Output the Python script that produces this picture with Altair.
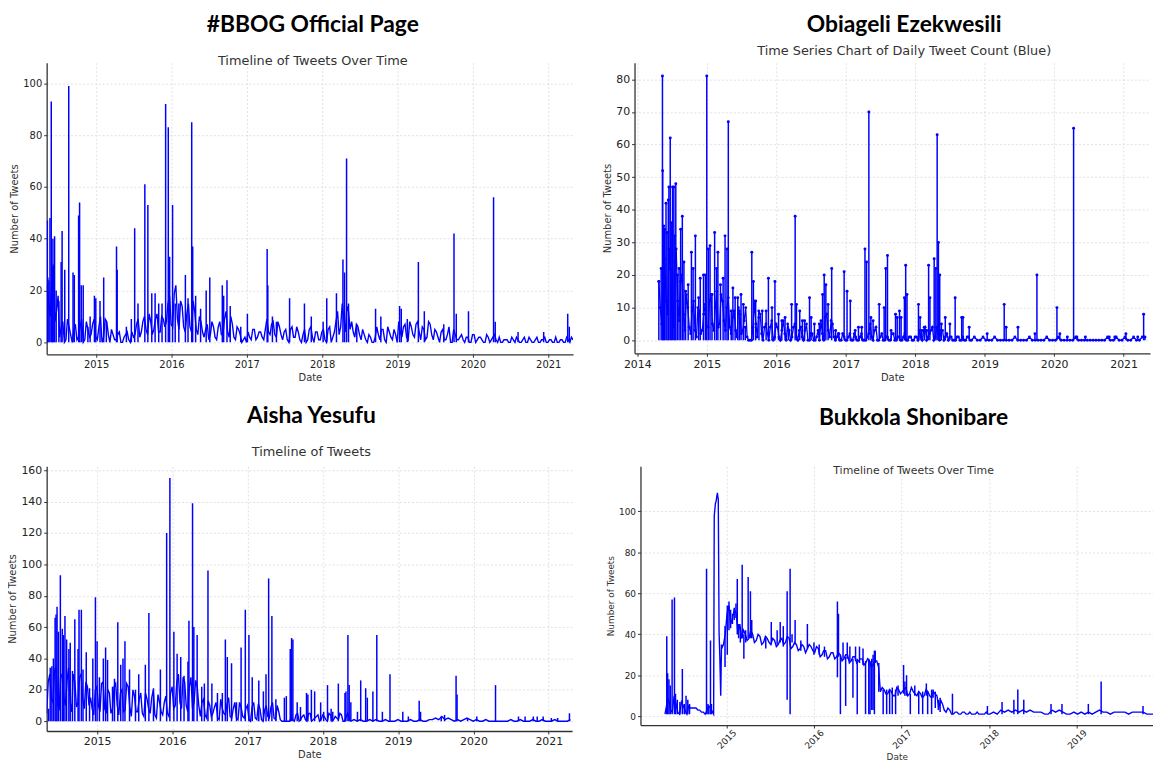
import altair as alt
import numpy as np
import pandas as pd

BLUE = "#0000ff"

# ---------------- #BBOG Official Page ----------------
bbog_start = 2014.35
bbog_step = 1 / 24
bbog_base = [22, 10, 30, 12,
             2, 8, 1, 6, 0, 7, 2, 9, 1, 5,
             3, 9, 1, 10, 2, 8, 0,
             3, 1, 4, 0, 3, 1, 4,
             3, 9, 4, 10, 3, 8, 5, 11, 4, 9,
             8, 18, 6, 22, 5, 14, 4,
             15, 4, 12, 3, 8,
             2, 7, 3, 6, 1, 8, 3, 12, 2, 7, 1, 5,
             0, 2,
             4, 1, 5, 2, 4, 1,
             9, 3, 8, 2, 6,
             1, 5, 0, 6, 2, 4, 0, 5, 1, 6, 0, 4,
             1, 5, 0, 6, 2,
             8, 3, 15, 4, 12,
             8, 2, 6, 1,
             3, 0, 2, 0,
             6, 1, 5, 0, 4, 1, 3,
             8, 2, 7, 1, 6, 2, 8, 1, 5, 2, 7, 1,
             4, 0, 5, 1, 6, 0, 3, 1,
             3, 0, 2, 0, 3, 1, 2, 0, 3, 0, 2, 1,
             2, 0, 1, 0, 2, 0, 1, 0, 2, 0, 1, 0, 2, 0, 1, 0, 1, 0, 2, 0, 1, 0, 1, 2]
# readings half-way between the points above
bbog_mid = [15, 26, 8, 18,
            6, 0, 9, 3, 5, 1, 6, 0, 8, 2,
            7, 2, 6, 0, 9, 3, 5,
            1, 3, 0, 2, 4, 0, 2,
            7, 2, 8, 5, 11, 3, 9, 4, 10, 6,
            15, 7, 19, 9, 16, 6, 11,
            6, 16, 5, 10, 4,
            5, 1, 8, 2, 6, 3, 9, 4, 10, 2, 6, 3,
            1, 0,
            2, 5, 1, 4, 2, 5,
            4, 7, 3, 8, 3,
            4, 1, 5, 2, 6, 1, 3, 0, 5, 2, 4, 1,
            4, 1, 5, 0, 4,
            12, 6, 9, 14, 5,
            4, 7, 3, 5,
            1, 3, 0, 2,
            3, 5, 1, 6, 2, 5, 0,
            4, 6, 2, 8, 3, 7, 4, 6, 1, 8, 3, 5,
            2, 4, 1, 3, 0, 5, 1, 2,
            1, 2, 0, 3, 0, 2, 1, 0, 2, 1, 3, 0,
            0, 1, 1, 0, 1, 2, 0, 1, 0, 2, 0, 1, 0, 1, 2, 0, 1, 0, 0, 1, 0, 2, 0, 1]
bbog_spikes = [(2014.353, 47), (2014.36, 25), (2014.374, 24), (2014.388, 48), (2014.405, 93),
               (2014.42, 29), (2014.427, 40), (2014.44, 25), (2014.449, 41), (2014.47, 20),
               (2014.506, 16), (2014.536, 31), (2014.549, 43), (2014.584, 28), (2014.637, 99),
               (2014.694, 27), (2014.711, 26), (2014.768, 49), (2014.781, 54), (2014.803, 22),
               (2014.829, 22), (2014.891, 6), (2014.921, 10), (2014.978, 18), (2014.996, 17),
               (2015.052, 16), (2015.101, 25), (2015.136, 8), (2015.271, 37), (2015.28, 28),
               (2015.402, 6), (2015.468, 9), (2015.512, 44), (2015.556, 15), (2015.647, 61),
               (2015.687, 53), (2015.739, 19), (2015.783, 19), (2015.831, 15), (2015.875, 15),
               (2015.923, 92), (2015.958, 83), (2015.976, 33), (2016.015, 53), (2016.05, 15),
               (2016.098, 15), (2016.185, 26), (2016.22, 17), (2016.269, 85), (2016.282, 37),
               (2016.321, 18), (2016.387, 13), (2016.461, 20), (2016.509, 25), (2016.675, 22),
               (2016.693, 18), (2016.737, 24), (2016.78, 14), (2016.92, 6), (2017.008, 11),
               (2017.27, 36), (2017.279, 22), (2017.34, 10), (2017.393, 8), (2017.568, 17),
               (2017.765, 15), (2017.856, 10), (2018.013, 8), (2018.061, 17), (2018.19, 19),
               (2018.276, 32), (2018.297, 27), (2018.324, 71), (2018.35, 15), (2018.46, 7),
               (2018.709, 13), (2018.779, 10), (2019.028, 14), (2019.05, 13), (2019.13, 9),
               (2019.277, 31), (2019.356, 12), (2019.614, 7), (2019.75, 42), (2019.78, 11),
               (2019.942, 12), (2020.275, 56), (2020.297, 8), (2020.6, 4), (2020.94, 4),
               (2021.259, 11), (2021.28, 6)]

# ---------------- Obiageli Ezekwesili ----------------
obi_start = 2014.31
obi_step = 1 / 24
obi_base = [18, 5, 25, 8, 22, 4, 28, 6, 20, 3,
            10, 2, 12, 1, 9, 3, 11,
            4, 14, 3, 15, 5, 12, 3, 13,
            2, 9, 1, 8, 3, 10,
            0, 0,
            12, 1, 8, 0,
            5, 0, 6, 1, 4, 0, 6, 0, 3, 1, 5, 0,
            4, 0, 5, 0,
            2, 0, 3,
            6, 0, 8, 1, 5,
            0, 2, 0, 1, 0, 2, 0, 1, 0, 2, 0, 1,
            5, 0, 4,
            0, 2, 0, 1, 0, 2, 0, 1, 0, 2, 0,
            1, 0, 1,
            3, 0, 4, 1, 3, 0, 4, 0, 3, 1,
            0, 1, 0, 1, 0, 1, 0, 1,
            0, 1, 0, 0, 1, 0, 0, 0, 1, 0, 0, 0,
            0, 0, 0, 1, 0, 0, 0, 0, 1, 0, 0, 0,
            0, 0, 1, 0, 0, 0, 1, 0, 0, 0, 0, 0,
            1, 0, 0, 0, 0, 0, 0, 0, 0, 0, 0, 1,
            0, 0, 1, 0, 0, 1, 0, 0, 1, 0, 0, 1]
obi_mid = [10, 20, 12, 28, 9, 24, 12, 18, 8, 14,
           4, 9, 3, 10, 2, 8, 4,
           12, 5, 10, 4, 14, 6, 10, 4,
           7, 3, 10, 2, 6, 1,
           0, 4,
           5, 9, 2, 4,
           2, 4, 0, 5, 1, 3, 2, 5, 0, 4, 1, 3,
           1, 3, 0, 2,
           0, 1, 0,
           2, 7, 3, 6, 1,
           1, 0, 2, 0, 1, 0, 2, 0, 1, 0, 0, 2,
           1, 3, 0,
           1, 0, 1, 0, 2, 0, 1, 0, 1, 0, 1,
           0, 1, 0,
           1, 3, 0, 2, 4, 1, 2, 3, 0, 2,
           1, 0, 0, 1, 0, 0, 1, 0]
obi_spikes = [(2014.31, 18), (2014.343, 22), (2014.362, 81), (2014.365, 52), (2014.38, 35),
              (2014.394, 34), (2014.413, 42), (2014.427, 33), (2014.446, 43), (2014.455, 47),
              (2014.474, 62), (2014.488, 36), (2014.507, 47), (2014.526, 47), (2014.54, 32),
              (2014.554, 48), (2014.577, 20), (2014.601, 22), (2014.624, 34), (2014.648, 38),
              (2014.671, 24), (2014.695, 15), (2014.732, 17), (2014.779, 27), (2014.803, 22),
              (2014.836, 32), (2014.883, 13), (2014.906, 19), (2014.953, 20), (2014.981, 20),
              (2015.0, 81), (2015.023, 28), (2015.047, 29), (2015.075, 14), (2015.113, 33),
              (2015.141, 22), (2015.16, 27), (2015.197, 17), (2015.235, 19), (2015.263, 32),
              (2015.291, 28), (2015.31, 67), (2015.352, 9), (2015.376, 16), (2015.408, 13),
              (2015.446, 13), (2015.469, 9), (2015.493, 14), (2015.526, 11), (2015.554, 4),
              (2015.648, 27), (2015.671, 18), (2015.704, 12), (2015.751, 7), (2015.798, 9),
              (2015.854, 9), (2015.887, 19), (2015.939, 10), (2015.981, 18), (2016.033, 8),
              (2016.08, 6), (2016.127, 7), (2016.174, 3), (2016.221, 11), (2016.272, 38),
              (2016.291, 11), (2016.338, 9), (2016.376, 6), (2016.408, 6), (2016.479, 13),
              (2016.502, 7), (2016.549, 5), (2016.62, 5), (2016.667, 14), (2016.69, 20),
              (2016.714, 17), (2016.746, 11), (2016.798, 22), (2016.854, 3), (2016.901, 2),
              (2016.977, 21), (2017.019, 15), (2017.066, 12), (2017.136, 3), (2017.183, 4),
              (2017.23, 4), (2017.277, 28), (2017.3, 24), (2017.333, 70), (2017.362, 7),
              (2017.394, 6), (2017.482, 11), (2017.553, 10), (2017.576, 22), (2017.601, 26),
              (2017.653, 3), (2017.717, 8), (2017.741, 7), (2017.774, 9), (2017.797, 7),
              (2017.845, 13), (2017.863, 23), (2017.882, 14), (2018.047, 11), (2018.07, 7),
              (2018.094, 3), (2018.13, 4), (2018.165, 3), (2018.193, 23), (2018.212, 13),
              (2018.273, 25), (2018.297, 22), (2018.316, 63), (2018.334, 30), (2018.353, 20),
              (2018.377, 5), (2018.433, 7), (2018.499, 5), (2018.575, 13), (2018.669, 7),
              (2018.688, 7), (2018.777, 4), (2019.036, 2), (2019.281, 11), (2019.309, 4),
              (2019.479, 4), (2019.724, 2), (2019.752, 20), (2020.04, 10), (2020.082, 2),
              (2020.19, 1), (2020.28, 65), (2020.327, 1), (2020.449, 1), (2020.793, 1),
              (2020.873, 1), (2021.033, 2), (2021.203, 1), (2021.288, 8), (2021.307, 1)]

# ---------------- Aisha Yesufu ----------------
aisha_start = 2014.33
aisha_step = 1 / 24
aisha_base = [5, 30, 12, 35, 8, 28, 10, 34, 6, 25, 12, 30, 8, 22,
              15, 4, 22, 6, 25, 5, 18, 8, 24, 4, 20, 7, 22, 3, 16,
              6, 18, 3, 14, 5, 20, 2, 12, 4, 16, 3, 22,
              10, 30, 8, 25, 6, 28, 12, 22,
              3, 14, 2, 10, 5, 12, 1, 8, 4, 15, 2, 12, 1, 9,
              2, 10, 0, 12, 1, 8, 0, 10, 2, 12, 1, 6,
              0, 0, 0,
              3, 0, 5, 1, 4, 0, 5, 1, 3, 0, 4, 1, 5, 0, 3, 1, 4, 0, 5,
              0, 1, 0, 1, 0, 0, 1, 0, 1, 0, 0, 1, 0,
              0, 0, 1, 0, 0, 0, 1, 0, 0, 1, 0, 0, 1,
              1, 2, 1, 3, 1, 2, 1, 0, 1, 0,
              1, 2, 1, 0, 1, 0, 0, 1, 0, 0, 0, 0, 0,
              0, 0, 1, 0, 0, 1, 0, 0, 0, 1, 0, 0, 1, 0, 0, 0, 1, 0, 0, 0, 0, 1]
aisha_mid = [25, 14, 32, 10, 30, 15, 26, 12, 30, 9, 28, 14, 25, 10,
             8, 20, 10, 24, 8, 20, 5, 22, 10, 18, 6, 24, 9, 20, 6,
             14, 5, 18, 8, 15, 4, 17, 6, 12, 5, 18, 8,
             25, 12, 28, 10, 22, 8, 26, 10,
             12, 4, 13, 3, 9, 2, 14, 5, 11, 3, 8, 2, 12, 3,
             8, 1, 9, 2, 11, 1, 7, 3, 9, 2, 10, 1,
             0, 0, 0,
             1, 4, 0, 3, 1, 5, 0, 2, 4, 1, 3, 0, 4, 1, 2, 5, 0, 3, 1]
aisha_spikes = [(2014.355, 8), (2014.377, 34), (2014.399, 35), (2014.42, 40), (2014.442, 66),
                (2014.455, 68), (2014.468, 73), (2014.486, 57), (2014.512, 93), (2014.538, 59),
                (2014.551, 55), (2014.573, 67), (2014.595, 52), (2014.625, 46), (2014.643, 50),
                (2014.673, 32), (2014.704, 65), (2014.747, 46), (2014.76, 71), (2014.791, 71),
                (2014.813, 33), (2014.856, 44), (2014.9, 21), (2014.943, 40), (2014.978, 79),
                (2015.0, 51), (2015.031, 28), (2015.083, 40), (2015.113, 47), (2015.139, 39),
                (2015.205, 22), (2015.231, 27), (2015.275, 63), (2015.314, 36), (2015.344, 40),
                (2015.37, 51), (2015.431, 33), (2015.51, 20), (2015.553, 30), (2015.641, 36),
                (2015.688, 69), (2015.749, 21), (2015.841, 33), (2015.924, 120), (2015.967, 155),
                (2016.02, 57), (2016.063, 43), (2016.111, 41), (2016.155, 29), (2016.207, 38),
                (2016.22, 64), (2016.268, 139), (2016.285, 60), (2016.329, 55), (2016.39, 22),
                (2016.425, 24), (2016.473, 96), (2016.525, 24), (2016.599, 18), (2016.664, 18),
                (2016.704, 52), (2016.73, 41), (2016.786, 37), (2016.852, 12), (2016.913, 47),
                (2016.969, 71), (2017.017, 55), (2017.061, 28), (2017.148, 26), (2017.209, 19),
                (2017.244, 30), (2017.279, 91), (2017.322, 67), (2017.375, 14), (2017.488, 15),
                (2017.514, 16), (2017.566, 46), (2017.584, 53), (2017.601, 52), (2017.658, 12),
                (2017.702, 9), (2017.782, 18), (2017.8, 17), (2017.847, 20), (2017.89, 19),
                (2017.97, 12), (2018.01, 6), (2018.061, 23), (2018.109, 8), (2018.131, 6),
                (2018.205, 24), (2018.293, 18), (2018.306, 19), (2018.332, 55), (2018.349, 23),
                (2018.371, 12), (2018.459, 6), (2018.502, 26), (2018.568, 21), (2018.59, 15),
                (2018.664, 19), (2018.716, 55), (2018.79, 6), (2018.891, 30), (2019.061, 6),
                (2019.135, 3), (2019.279, 13), (2019.297, 6), (2019.572, 3), (2019.616, 4),
                (2019.769, 29), (2019.782, 17), (2019.921, 2), (2020.044, 3), (2020.293, 23),
                (2020.598, 3), (2020.686, 3), (2020.795, 3), (2020.847, 3), (2020.926, 3),
                (2021.035, 2), (2021.118, 2), (2021.275, 5)]

# ---------------- Bukkola Shonibare ----------------
buk_start = 2014.30
buk_step = 1 / 24
buk_base = [1, 8, 2, 6, 1, 5, 1, 4, 4, 3, 2, 1, 5, 2, 105, 30, 35,
            50, 45, 52, 40, 38, 40, 38, 40,
            37, 39, 36, 38, 35, 37, 35, 38, 36, 38, 34, 35, 33, 34, 33, 34,
            31, 33, 30, 32, 29, 31, 29, 30, 28, 30, 27, 29, 27, 28, 26, 27, 25, 27,
            12, 13, 11, 12, 10, 13, 12, 14, 11, 12, 10, 11, 10, 12, 9, 11,
            4, 6, 2, 3, 1, 2, 1, 2, 1, 1, 1, 1, 1, 2,
            1, 2, 1, 3, 2, 3, 2, 3, 2, 3, 2, 3, 2, 2, 2, 1, 1, 3, 2, 3, 2, 1, 1, 2,
            1, 2, 1, 2, 1, 2, 3, 2, 2, 1, 2, 2, 2, 2, 1, 2, 2, 2, 2, 1, 1, 1, 1, 1]
buk_mid = [6, 3, 10, 2, 7, 3, 5, 4, 4, 3, 2, 3, 4, 98, 107, 33, 40,
           54, 48, 50, 45, 42, 37, 42, 36,
           40, 35, 39, 36, 38, 34, 37, 35, 39, 33, 36, 32, 35, 31, 35, 32,
           34, 29, 32, 28, 31, 28, 31, 27, 30, 26, 29, 26, 28, 25, 28, 24, 27, 24,
           14, 11, 13, 10, 14, 11, 13, 10, 14, 11, 12, 9, 13, 10, 12, 10,
           8, 3, 4, 1, 2, 1, 2, 1, 2, 1, 2, 1, 1, 1]
buk_extra = [(2014.855, 1), (2014.862, 98), (2014.876, 104), (2014.898, 109),
             (2014.908, 106), (2014.917, 41), (2014.936, 10), (2014.945, 35)]
buk_segments = [(2014.32, 1, 39), (2014.33, 1, 21), (2014.345, 1, 18), (2014.36, 1, 15),
                (2014.381, 1, 57), (2014.408, 1, 58), (2014.42, 1, 11), (2014.44, 1, 8),
                (2014.47, 1, 7), (2014.498, 1, 23), (2014.52, 1, 6), (2014.54, 1, 10),
                (2014.56, 1, 8), (2014.58, 1, 6), (2014.774, 1, 72), (2014.79, 1, 6),
                (2014.8, 1, 5), (2014.819, 1, 37), (2014.83, 1, 6),
                (2014.985, 24, 44), (2015.011, 30, 54), (2015.03, 42, 56), (2015.049, 43, 52),
                (2015.07, 45, 50), (2015.09, 47, 53), (2015.11, 48, 55), (2015.125, 40, 67),
                (2015.14, 38, 45), (2015.16, 36, 42), (2015.181, 38, 74), (2015.2, 28, 40),
                (2015.22, 36, 42), (2015.249, 38, 68), (2015.275, 38, 61), (2015.29, 38, 47),
                (2015.45, 33, 39), (2015.513, 35, 46), (2015.58, 35, 42), (2015.615, 36, 46),
                (2015.65, 34, 44), (2015.694, 8, 61), (2015.728, 1, 72), (2015.75, 36, 40),
                (2015.785, 35, 47), (2015.85, 32, 37), (2015.925, 33, 45), (2016.0, 30, 36),
                (2016.06, 30, 35), (2016.12, 29, 34), (2016.268, 19, 56), (2016.28, 29, 50),
                (2016.302, 1, 30), (2016.332, 28, 36), (2016.362, 5, 29), (2016.38, 28, 36),
                (2016.41, 27, 34), (2016.445, 9, 28), (2016.475, 27, 34), (2016.494, 1, 28),
                (2016.52, 26, 34), (2016.56, 25, 33), (2016.589, 1, 27), (2016.626, 1, 28),
                (2016.64, 1, 27), (2016.66, 3, 28), (2016.675, 3, 30), (2016.69, 1, 32),
                (2016.7, 26, 32), (2016.74, 12, 26),
                (2016.79, 1, 13), (2016.83, 1, 13), (2016.864, 1, 13), (2016.894, 1, 14),
                (2016.932, 1, 13), (2016.96, 10, 15), (2017.023, 11, 25), (2017.038, 10, 17),
                (2017.057, 10, 20), (2017.1, 1, 11), (2017.151, 10, 15), (2017.196, 1, 12),
                (2017.241, 1, 12), (2017.283, 10, 16), (2017.298, 1, 12), (2017.343, 1, 13),
                (2017.36, 9, 13), (2017.385, 4, 12), (2017.42, 3, 8), (2017.44, 2, 9),
                (2017.581, 1, 11), (2017.98, 1, 5), (2018.147, 1, 7), (2018.282, 1, 8),
                (2018.327, 1, 13), (2018.395, 1, 8), (2018.706, 1, 6), (2018.831, 1, 6),
                (2019.132, 1, 6), (2019.278, 1, 17), (2019.756, 1, 5)]


def base_frame(start, step, values, mid=None, extra=None):
    parts = [pd.DataFrame({"year": start + np.arange(len(values)) * step, "n": values})]
    if mid:
        parts.append(pd.DataFrame({"year": start + step / 2 + np.arange(len(mid)) * step,
                                   "n": mid}))
    if extra:
        parts.append(pd.DataFrame(extra, columns=["year", "n"]))
    df = pd.concat(parts)
    return df.sort_values("year").reset_index(drop=True)


def spike_frame(spikes):
    if len(spikes[0]) == 2:
        df = pd.DataFrame(spikes, columns=["year", "hi"])
        df["lo"] = 0
    else:
        df = pd.DataFrame(spikes, columns=["year", "lo", "hi"])
    return df


def panel(base, spikes, xdom, xticks, ydom, yticks, w, h, title, subtitle,
          sub_pad, offset, dx, lab=10, ttl=10, sub_size=13, markers=False,
          label_angle=0, ytitle_pad=3):
    if label_angle:
        xaxis = alt.Axis(values=xticks, format="d", title="Date", labelFontSize=lab,
                         titleFontSize=ttl, labelAngle=label_angle, labelAlign="center",
                         labelBaseline="middle", labelPadding=11, titlePadding=2)
    else:
        xaxis = alt.Axis(values=xticks, format="d", title="Date", labelFontSize=lab,
                         titleFontSize=ttl, titlePadding=3)
    yaxis = alt.Axis(values=yticks, title="Number of Tweets", labelFontSize=lab,
                     titleFontSize=ttl, titlePadding=ytitle_pad)
    xs = alt.Scale(domain=xdom, nice=False, zero=False)
    ys = alt.Scale(domain=ydom, nice=False, zero=False)
    X = alt.X("year:Q", scale=xs, axis=xaxis)
    if markers:
        line = alt.Chart(base).mark_line(
            color=BLUE, strokeWidth=1.3, clip=True,
            point=alt.OverlayMarkDef(filled=True, size=8, color=BLUE))
    else:
        line = alt.Chart(base).mark_line(color=BLUE, strokeWidth=1.4, clip=True)
    line = line.encode(x=X, y=alt.Y("n:Q", scale=ys, axis=yaxis))
    rule = alt.Chart(spikes).mark_rule(color=BLUE, strokeWidth=1.5, clip=True).encode(
        x=X, y=alt.Y("hi:Q", scale=ys, axis=yaxis), y2="lo:Q")
    layers = [line, rule]
    if markers:
        tops = alt.Chart(spikes).mark_circle(color=BLUE, size=9, opacity=1, clip=True).encode(
            x=X, y=alt.Y("hi:Q", scale=ys, axis=yaxis))
        layers.append(tops)
    return alt.layer(*layers).properties(
        width=w, height=h,
        title=alt.TitleParams(text=title, subtitle=subtitle, font="Lato", fontSize=23,
                              fontWeight="bold", color="#000000",
                              subtitleFont="DejaVu Sans", subtitleFontSize=sub_size,
                              subtitleColor="#333333", subtitlePadding=sub_pad,
                              offset=offset, anchor="middle", dx=dx))


p1 = panel(base_frame(bbog_start, bbog_step, bbog_base, bbog_mid), spike_frame(bbog_spikes),
           [2014.344, 2021.33], list(range(2015, 2022)), [-4.6, 107.9],
           [0, 20, 40, 60, 80, 100], 531, 294,
           "#BBOG Official Page", "Timeline of Tweets Over Time", 18, -5, 3, sub_size=13)
p2 = panel(base_frame(obi_start, obi_step, obi_base, obi_mid), spike_frame(obi_spikes),
           [2013.96, 2021.38], list(range(2014, 2022)), [-4.0, 85.05],
           [0, 10, 20, 30, 40, 50, 60, 70, 80], 520, 293,
           "Obiageli Ezekwesili", "Time Series Chart of Daily Tweet Count (Blue)", 8, 5, 12,
           lab=11, ttl=10, sub_size=13, markers=True)
p3 = panel(base_frame(aisha_start, aisha_step, aisha_base, aisha_mid),
           spike_frame(aisha_spikes),
           [2014.33, 2021.31], list(range(2015, 2022)), [-6.25, 162.5],
           [0, 20, 40, 60, 80, 100, 120, 140, 160], 530, 267,
           "Aisha Yesufu", "Timeline of Tweets", 19, 5, 2, lab=11, ttl=10, sub_size=13)
p4 = panel(base_frame(buk_start, buk_step, buk_base, buk_mid, buk_extra),
           spike_frame(buk_segments),
           [2014.02, 2019.87], list(range(2015, 2020)), [-4.31, 122.0],
           [0, 20, 40, 60, 80, 100], 517, 261,
           "Bukkola Shonibare", "Timeline of Tweets Over Time", 36, -10, 17, lab=9, ttl=9,
           sub_size=11, label_angle=315)

row1 = alt.hconcat(p1, p2, spacing=30)
row2 = alt.hconcat(p3, p4, spacing=34)
chart = alt.vconcat(row1, row2, spacing=22).properties(
    padding={"left": 0, "top": 3, "right": 0, "bottom": 0},
    background="white",
).configure_view(stroke=None).configure_axis(
    gridColor="#d9d9d9", gridDash=[2, 2], gridWidth=0.8,
    domainColor="#333333", domainWidth=1.3, tickColor="#333333", tickSize=3,
    labelColor="#222222", titleColor="#333333", labelFont="DejaVu Sans",
    titleFont="DejaVu Sans", titleFontWeight="normal",
)

chart.save("out.html", embed_options={"renderer": "svg", "actions": False})
